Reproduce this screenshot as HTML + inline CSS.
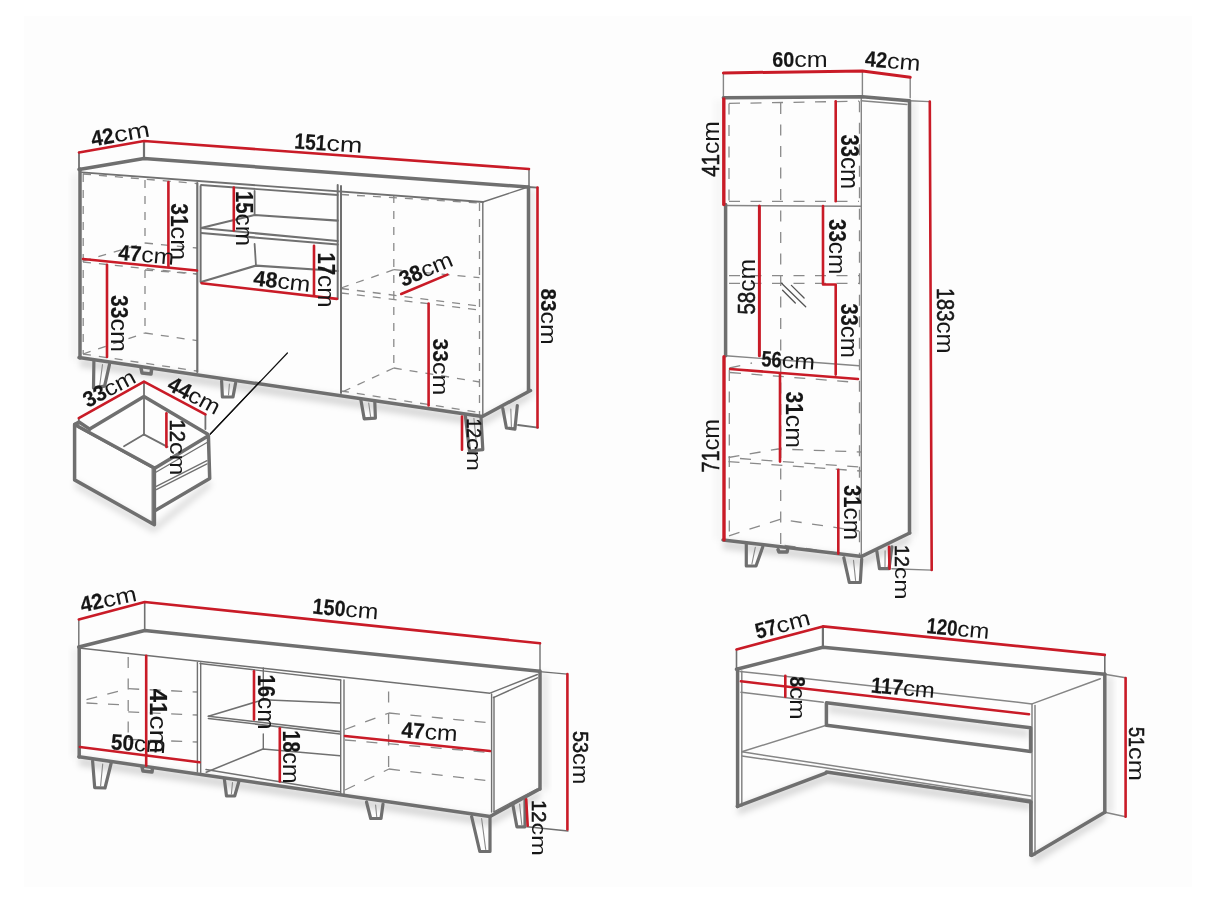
<!DOCTYPE html>
<html><head><meta charset="utf-8"><style>
html,body{margin:0;padding:0;background:#fff;}
svg{display:block;will-change:transform;}
text{font-family:"Liberation Sans",sans-serif;fill:#161616;}
</style></head><body>
<svg width="1214" height="910" viewBox="0 0 1214 910">
<rect width="1214" height="910" fill="#fff"/><rect x="24" y="16" width="1168" height="871" fill="#fdfdfd"/>
<defs><filter id="b30" x="-50%" y="-50%" width="200%" height="200%"><feGaussianBlur stdDeviation="3"/></filter></defs>
<polygon points="80.0,358.0 482.0,417.0 530.0,391.0 530.0,399.0 482.0,426.0 80.0,367.0" fill="#000" fill-opacity="0.15" filter="url(#b30)"/>
<polygon points="529.0,188.0 535.0,189.0 535.0,398.0 529.0,393.0" fill="#000" fill-opacity="0.09" filter="url(#b30)"/>
<polygon points="72.0,175.0 79.0,172.0 79.0,358.0 72.0,360.0" fill="#000" fill-opacity="0.05" filter="url(#b30)"/>
<polygon points="75.0,480.0 154.0,525.0 210.0,479.0 211.0,487.0 154.0,533.0 75.0,488.0" fill="#000" fill-opacity="0.12" filter="url(#b30)"/>
<polygon points="910.0,101.0 916.0,102.0 916.0,535.0 910.0,535.0" fill="#000" fill-opacity="0.08" filter="url(#b30)"/>
<polygon points="723.0,540.0 862.0,557.0 910.0,534.0 910.0,542.0 862.0,566.0 723.0,549.0" fill="#000" fill-opacity="0.15" filter="url(#b30)"/>
<polygon points="715.0,100.0 723.0,100.0 723.0,540.0 715.0,540.0" fill="#000" fill-opacity="0.03" filter="url(#b30)"/>
<polygon points="79.0,757.0 490.0,817.0 540.0,790.0 540.0,798.0 490.0,826.0 79.0,766.0" fill="#000" fill-opacity="0.15" filter="url(#b30)"/>
<polygon points="541.0,672.0 548.0,673.0 548.0,790.0 541.0,790.0" fill="#000" fill-opacity="0.09" filter="url(#b30)"/>
<polygon points="72.0,648.0 79.0,648.0 79.0,757.0 72.0,757.0" fill="#000" fill-opacity="0.05" filter="url(#b30)"/>
<polygon points="738.0,806.0 826.0,773.0 1031.0,802.0 1031.0,810.0 826.0,782.0 738.0,815.0" fill="#000" fill-opacity="0.15" filter="url(#b30)"/>
<polygon points="1032.0,855.0 1105.0,812.0 1105.0,820.0 1034.0,864.0" fill="#000" fill-opacity="0.15" filter="url(#b30)"/>
<polygon points="1105.0,675.0 1113.0,677.0 1113.0,813.0 1105.0,813.0" fill="#000" fill-opacity="0.09" filter="url(#b30)"/>
<polygon points="828.0,704.0 1029.0,729.0 1029.0,738.0 828.0,713.0" fill="#000" fill-opacity="0.12" filter="url(#b30)"/>
<polyline points="83.0,174.0 197.0,183.5" fill="none" stroke="#8a8a8a" stroke-width="1.3" stroke-dasharray="8 8"/>
<polyline points="83.2,174.0 83.2,354.0" fill="none" stroke="#8a8a8a" stroke-width="1.3" stroke-dasharray="8 8"/>
<polyline points="145.0,180.0 145.0,243.0" fill="none" stroke="#8a8a8a" stroke-width="1.3" stroke-dasharray="8 8"/>
<polyline points="145.0,243.0 197.0,248.0" fill="none" stroke="#8a8a8a" stroke-width="1.3" stroke-dasharray="8 8"/>
<polyline points="83.0,261.0 145.0,243.0" fill="none" stroke="#8a8a8a" stroke-width="1.3" stroke-dasharray="8 8"/>
<polyline points="83.0,262.0 197.0,274.0" fill="none" stroke="#8a8a8a" stroke-width="1.3" stroke-dasharray="8 8"/>
<polyline points="145.0,270.0 145.0,333.0" fill="none" stroke="#8a8a8a" stroke-width="1.3" stroke-dasharray="8 8"/>
<polyline points="145.0,270.0 197.0,274.0" fill="none" stroke="#8a8a8a" stroke-width="1.3" stroke-dasharray="8 8"/>
<polyline points="83.0,354.0 145.0,333.0" fill="none" stroke="#8a8a8a" stroke-width="1.3" stroke-dasharray="8 8"/>
<polyline points="145.0,333.0 197.0,340.6" fill="none" stroke="#8a8a8a" stroke-width="1.3" stroke-dasharray="8 8"/>
<polyline points="83.0,354.0 197.0,371.0" fill="none" stroke="#8a8a8a" stroke-width="1.3" stroke-dasharray="8 8"/>
<polyline points="341.0,194.5 479.5,203.0" fill="none" stroke="#8a8a8a" stroke-width="1.3" stroke-dasharray="8 8"/>
<polyline points="393.8,195.0 393.8,368.0" fill="none" stroke="#8a8a8a" stroke-width="1.3" stroke-dasharray="8 8"/>
<polyline points="479.5,203.0 479.5,415.0" fill="none" stroke="#8a8a8a" stroke-width="1.3" stroke-dasharray="8 8"/>
<polyline points="341.0,288.0 393.8,269.7" fill="none" stroke="#8a8a8a" stroke-width="1.3" stroke-dasharray="8 8"/>
<polyline points="393.8,269.7 479.5,277.6" fill="none" stroke="#8a8a8a" stroke-width="1.3" stroke-dasharray="8 8"/>
<polyline points="341.0,288.5 479.5,306.0" fill="none" stroke="#8a8a8a" stroke-width="1.3" stroke-dasharray="8 8"/>
<polyline points="341.0,293.0 479.5,310.0" fill="none" stroke="#8a8a8a" stroke-width="1.3" stroke-dasharray="8 8"/>
<polyline points="393.8,368.0 479.8,382.0" fill="none" stroke="#8a8a8a" stroke-width="1.3" stroke-dasharray="8 8"/>
<polyline points="393.8,368.0 340.0,393.0" fill="none" stroke="#8a8a8a" stroke-width="1.3" stroke-dasharray="8 8"/>
<polyline points="341.0,391.0 479.8,412.5" fill="none" stroke="#8a8a8a" stroke-width="1.3" stroke-dasharray="8 8"/>
<polyline points="79.0,152.5 79.0,169.5" fill="none" stroke="#707070" stroke-width="1.8" stroke-linejoin="round" stroke-linecap="round"/>
<polyline points="144.0,141.0 144.0,158.5" fill="none" stroke="#707070" stroke-width="2.2" stroke-linejoin="round" stroke-linecap="round"/>
<polyline points="529.0,169.0 529.0,187.0" fill="none" stroke="#707070" stroke-width="1.5" stroke-linejoin="round" stroke-linecap="round"/>
<polyline points="528.0,187.0 537.5,187.6" fill="none" stroke="#707070" stroke-width="1.8" stroke-linejoin="round" stroke-linecap="round"/>
<polyline points="82.0,172.4 482.8,202.0" fill="none" stroke="#707070" stroke-width="1.8" stroke-linejoin="round" stroke-linecap="round"/>
<polyline points="482.8,202.0 528.0,187.0" fill="none" stroke="#707070" stroke-width="1.4" stroke-linejoin="round" stroke-linecap="round"/>
<polyline points="482.8,202.0 482.8,416.5" fill="none" stroke="#707070" stroke-width="1.4" stroke-linejoin="round" stroke-linecap="round"/>
<polyline points="201.0,185.0 337.7,195.0" fill="none" stroke="#707070" stroke-width="1.8" stroke-linejoin="round" stroke-linecap="round"/>
<polyline points="254.6,191.0 254.6,215.0" fill="none" stroke="#707070" stroke-width="1.8" stroke-linejoin="round" stroke-linecap="round"/>
<polyline points="254.6,244.0 256.0,266.0" fill="none" stroke="#707070" stroke-width="1.8" stroke-linejoin="round" stroke-linecap="round"/>
<polyline points="201.0,228.0 254.6,215.0 337.7,220.6" fill="none" stroke="#707070" stroke-width="2.2" stroke-linejoin="round" stroke-linecap="round"/>
<polyline points="201.0,228.0 337.7,241.0" fill="none" stroke="#707070" stroke-width="2.2" stroke-linejoin="round" stroke-linecap="round"/>
<polyline points="201.0,233.0 337.7,244.5" fill="none" stroke="#707070" stroke-width="2.0" stroke-linejoin="round" stroke-linecap="round"/>
<polyline points="201.0,282.0 256.0,265.6 337.7,271.0" fill="none" stroke="#707070" stroke-width="2.2" stroke-linejoin="round" stroke-linecap="round"/>
<polyline points="337.7,185.0 337.7,299.0" fill="none" stroke="#707070" stroke-width="2.0" stroke-linejoin="round" stroke-linecap="round"/>
<polyline points="341.0,186.0 341.0,393.0" fill="none" stroke="#707070" stroke-width="2.0" stroke-linejoin="round" stroke-linecap="round"/>
<polyline points="518.0,425.0 537.9,427.6" fill="none" stroke="#707070" stroke-width="1.8" stroke-linejoin="round" stroke-linecap="round"/>
<polyline points="79.0,169.5 144.0,158.5 528.0,187.0" fill="none" stroke="#6f6f6f" stroke-width="3.5" stroke-linejoin="round" stroke-linecap="round"/>
<polyline points="80.0,169.0 80.0,358.0" fill="none" stroke="#6f6f6f" stroke-width="3.5" stroke-linejoin="round" stroke-linecap="round"/>
<polyline points="79.0,357.5 482.3,416.5 530.5,390.5" fill="none" stroke="#6f6f6f" stroke-width="3.5" stroke-linejoin="round" stroke-linecap="round"/>
<polyline points="528.5,187.0 528.5,390.5" fill="none" stroke="#6f6f6f" stroke-width="3.5" stroke-linejoin="round" stroke-linecap="round"/>
<polyline points="197.3,183.0 197.3,372.0" fill="none" stroke="#707070" stroke-width="2.2" stroke-linejoin="round" stroke-linecap="round"/>
<polyline points="200.6,186.0 200.6,282.0" fill="none" stroke="#707070" stroke-width="2.0" stroke-linejoin="round" stroke-linecap="round"/>
<polyline points="93.9,360.7 93.5,387.9 104.6,386.2 109.5,364.4" fill="none" stroke="#6f6f6f" stroke-width="3.2" stroke-linejoin="round" stroke-linecap="round"/>
<polyline points="102.5,364.5 99.8,385.0" fill="none" stroke="#888" stroke-width="1.1" stroke-linejoin="round" stroke-linecap="round"/>
<polyline points="141.0,368.0 142.0,373.0 151.0,374.0 151.5,370.0" fill="none" stroke="#6f6f6f" stroke-width="3.5" stroke-linejoin="round" stroke-linecap="round"/>
<polyline points="221.6,381.0 222.4,397.0 233.0,397.0 235.6,383.0" fill="none" stroke="#6f6f6f" stroke-width="3.2" stroke-linejoin="round" stroke-linecap="round"/>
<polyline points="229.4,384.0 228.5,395.0" fill="none" stroke="#888" stroke-width="1.1" stroke-linejoin="round" stroke-linecap="round"/>
<polyline points="360.9,400.0 364.2,418.8 375.4,418.1 374.8,402.0" fill="none" stroke="#6f6f6f" stroke-width="3.2" stroke-linejoin="round" stroke-linecap="round"/>
<polyline points="368.7,403.0 370.6,416.5" fill="none" stroke="#888" stroke-width="1.1" stroke-linejoin="round" stroke-linecap="round"/>
<polyline points="465.3,415.3 469.5,451.0 482.8,449.7 481.0,417.1" fill="none" stroke="#6f6f6f" stroke-width="3.2" stroke-linejoin="round" stroke-linecap="round"/>
<polyline points="473.9,418.2 476.9,448.4" fill="none" stroke="#888" stroke-width="1.1" stroke-linejoin="round" stroke-linecap="round"/>
<polyline points="502.8,408.6 506.4,428.0 514.9,429.2 517.3,405.6" fill="none" stroke="#6f6f6f" stroke-width="3.2" stroke-linejoin="round" stroke-linecap="round"/>
<polyline points="510.8,409.1 511.4,426.6" fill="none" stroke="#888" stroke-width="1.1" stroke-linejoin="round" stroke-linecap="round"/>
<polyline points="287.4,353.0 210.3,434.0" fill="none" stroke="#111" stroke-width="1.2" stroke-linejoin="round" stroke-linecap="round"/>
<polyline points="79.0,152.5 144.0,141.0 529.0,169.0" fill="none" stroke="#c91b27" stroke-width="2.6" stroke-linejoin="round" stroke-linecap="round"/>
<polyline points="537.5,187.5 537.5,427.5" fill="none" stroke="#c91b27" stroke-width="2.6" stroke-linejoin="round" stroke-linecap="round"/>
<polyline points="168.4,182.0 168.4,267.0" fill="none" stroke="#c91b27" stroke-width="2.6" stroke-linejoin="round" stroke-linecap="round"/>
<polyline points="233.8,187.6 233.8,230.5" fill="none" stroke="#c91b27" stroke-width="2.6" stroke-linejoin="round" stroke-linecap="round"/>
<polyline points="83.0,259.0 197.0,270.5" fill="none" stroke="#c91b27" stroke-width="2.6" stroke-linejoin="round" stroke-linecap="round"/>
<polyline points="107.0,264.7 107.0,357.0" fill="none" stroke="#c91b27" stroke-width="2.6" stroke-linejoin="round" stroke-linecap="round"/>
<polyline points="201.6,283.2 336.9,298.9" fill="none" stroke="#c91b27" stroke-width="2.6" stroke-linejoin="round" stroke-linecap="round"/>
<polyline points="314.0,245.8 314.0,295.2" fill="none" stroke="#c91b27" stroke-width="2.6" stroke-linejoin="round" stroke-linecap="round"/>
<polyline points="401.2,294.0 447.4,274.6" fill="none" stroke="#c91b27" stroke-width="2.6" stroke-linejoin="round" stroke-linecap="round"/>
<polyline points="428.6,303.5 428.6,405.4" fill="none" stroke="#c91b27" stroke-width="2.6" stroke-linejoin="round" stroke-linecap="round"/>
<polyline points="462.0,416.5 462.0,449.8" fill="none" stroke="#c91b27" stroke-width="2.6" stroke-linejoin="round" stroke-linecap="round"/>
<g transform="translate(92.5,146.5) rotate(-10.00)"><text x="0" y="0" font-size="22" font-weight="bold" stroke="#161616" stroke-width="0.2" textLength="23.0" lengthAdjust="spacingAndGlyphs">42</text><text x="23.0" y="0" font-size="22" textLength="36.0" lengthAdjust="spacingAndGlyphs">cm</text></g>
<g transform="translate(294.0,148.6) rotate(3.50)"><text x="0" y="0" font-size="22" font-weight="bold" stroke="#161616" stroke-width="0.2" textLength="32.0" lengthAdjust="spacingAndGlyphs">151</text><text x="32.0" y="0" font-size="22" textLength="36.0" lengthAdjust="spacingAndGlyphs">cm</text></g>
<g transform="translate(171.4,203.3) rotate(90)">
<text x="0" y="0" font-size="23.2" font-weight="bold" stroke="#161616" stroke-width="0.2" textLength="23.3" lengthAdjust="spacingAndGlyphs">31</text><text x="23.3" y="0" font-size="23.2" textLength="33.5" lengthAdjust="spacingAndGlyphs">cm</text></g>
<g transform="translate(236.3,190.9) rotate(90)">
<text x="0" y="0" font-size="23.2" font-weight="bold" stroke="#161616" stroke-width="0.2" textLength="22.7" lengthAdjust="spacingAndGlyphs">15</text><text x="22.7" y="0" font-size="23.2" textLength="32.5" lengthAdjust="spacingAndGlyphs">cm</text></g>
<g transform="translate(117.8,259.8) rotate(5.00)"><text x="0" y="0" font-size="22" font-weight="bold" stroke="#161616" stroke-width="0.2" textLength="23.0" lengthAdjust="spacingAndGlyphs">47</text><text x="23.0" y="0" font-size="22" textLength="33.0" lengthAdjust="spacingAndGlyphs">cm</text></g>
<g transform="translate(111.0,295.0) rotate(90)">
<text x="0" y="0" font-size="23.5" font-weight="bold" stroke="#161616" stroke-width="0.2" textLength="23.4" lengthAdjust="spacingAndGlyphs">33</text><text x="23.4" y="0" font-size="23.5" textLength="33.6" lengthAdjust="spacingAndGlyphs">cm</text></g>
<g transform="translate(252.8,285.3) rotate(6.70)"><text x="0" y="0" font-size="22" font-weight="bold" stroke="#161616" stroke-width="0.2" textLength="24.0" lengthAdjust="spacingAndGlyphs">48</text><text x="24.0" y="0" font-size="22" textLength="33.0" lengthAdjust="spacingAndGlyphs">cm</text></g>
<g transform="translate(318.0,252.4) rotate(90)">
<text x="0" y="0" font-size="23.1" font-weight="bold" stroke="#161616" stroke-width="0.2" textLength="22.7" lengthAdjust="spacingAndGlyphs">17</text><text x="22.7" y="0" font-size="23.1" textLength="32.5" lengthAdjust="spacingAndGlyphs">cm</text></g>
<g transform="translate(403.0,287.0) rotate(-22.80)"><text x="0" y="0" font-size="22" font-weight="bold" stroke="#161616" stroke-width="0.2" textLength="23.0" lengthAdjust="spacingAndGlyphs">38</text><text x="23.0" y="0" font-size="22" textLength="33.0" lengthAdjust="spacingAndGlyphs">cm</text></g>
<g transform="translate(432.8,338.6) rotate(90)">
<text x="0" y="0" font-size="22.7" font-weight="bold" stroke="#161616" stroke-width="0.2" textLength="23.4" lengthAdjust="spacingAndGlyphs">33</text><text x="23.4" y="0" font-size="22.7" textLength="33.5" lengthAdjust="spacingAndGlyphs">cm</text></g>
<g transform="translate(541.4,288.6) rotate(90)">
<text x="0" y="0" font-size="22.0" font-weight="bold" stroke="#161616" stroke-width="0.2" textLength="23.0" lengthAdjust="spacingAndGlyphs">83</text><text x="23.0" y="0" font-size="22.0" textLength="33.1" lengthAdjust="spacingAndGlyphs">cm</text></g>
<g transform="translate(466.9,418.6) rotate(90)">
<text x="0" y="0" font-size="20.8" font-weight="normal" stroke="#161616" stroke-width="0.6" textLength="19.5" lengthAdjust="spacingAndGlyphs">12</text><text x="19.5" y="0" font-size="20.8" textLength="32.8" lengthAdjust="spacingAndGlyphs">cm</text></g>
<polygon points="74.6,424.5 154.4,468.0 154.4,524.7 74.6,479.9" fill="none" stroke="#6f6f6f" stroke-width="3.5" stroke-linejoin="round" stroke-linecap="round"/>
<polyline points="78.0,427.5 152.0,468.0" fill="none" stroke="#707070" stroke-width="1.3" stroke-linejoin="round" stroke-linecap="round"/>
<polyline points="152.2,469.0 152.2,523.0" fill="none" stroke="#707070" stroke-width="1.3" stroke-linejoin="round" stroke-linecap="round"/>
<polyline points="154.4,468.0 156.0,467.5 208.4,435.7 209.7,478.5 155.7,510.2" fill="none" stroke="#6f6f6f" stroke-width="3.5" stroke-linejoin="round" stroke-linecap="round"/>
<polyline points="89.7,429.1 144.0,396.5 207.4,434.0" fill="none" stroke="#6f6f6f" stroke-width="3.5" stroke-linejoin="round" stroke-linecap="round"/>
<polyline points="74.8,424.2 79.0,422.0 89.7,429.1" fill="none" stroke="#6f6f6f" stroke-width="3.5" stroke-linejoin="round" stroke-linecap="round"/>
<polyline points="144.0,396.5 144.0,435.0" fill="none" stroke="#707070" stroke-width="1.8" stroke-linejoin="round" stroke-linecap="round"/>
<polyline points="143.8,434.4 124.0,446.2" fill="none" stroke="#707070" stroke-width="1.8" stroke-linejoin="round" stroke-linecap="round"/>
<polyline points="143.8,434.4 167.5,446.9" fill="none" stroke="#707070" stroke-width="1.8" stroke-linejoin="round" stroke-linecap="round"/>
<polyline points="156.3,472.0 207.0,442.5" fill="none" stroke="#707070" stroke-width="1.3" stroke-linejoin="round" stroke-linecap="round"/>
<polyline points="156.3,486.4 207.0,460.7" fill="none" stroke="#707070" stroke-width="1.3" stroke-linejoin="round" stroke-linecap="round"/>
<polyline points="156.3,489.6 207.0,463.9" fill="none" stroke="#707070" stroke-width="1.3" stroke-linejoin="round" stroke-linecap="round"/>
<polyline points="78.8,418.0 78.8,424.0" fill="none" stroke="#707070" stroke-width="1.8" stroke-linejoin="round" stroke-linecap="round"/>
<polyline points="144.0,381.6 144.0,396.5" fill="none" stroke="#707070" stroke-width="1.8" stroke-linejoin="round" stroke-linecap="round"/>
<polyline points="205.4,414.3 205.4,429.0" fill="none" stroke="#707070" stroke-width="1.8" stroke-linejoin="round" stroke-linecap="round"/>
<polyline points="210.3,434.0 260.0,381.6" fill="none" stroke="#111" stroke-width="1.2" stroke-linejoin="round" stroke-linecap="round"/>
<polyline points="78.8,418.2 144.0,381.6 205.4,414.3" fill="none" stroke="#c91b27" stroke-width="2.6" stroke-linejoin="round" stroke-linecap="round"/>
<polyline points="166.4,413.3 166.4,447.0" fill="none" stroke="#c91b27" stroke-width="2.6" stroke-linejoin="round" stroke-linecap="round"/>
<g transform="translate(88.0,408.0) rotate(-28.00)"><text x="0" y="0" font-size="22" font-weight="bold" stroke="#161616" stroke-width="0.2" textLength="23.0" lengthAdjust="spacingAndGlyphs">33</text><text x="23.0" y="0" font-size="22" textLength="33.0" lengthAdjust="spacingAndGlyphs">cm</text></g>
<g transform="translate(166.0,389.0) rotate(28.00)"><text x="0" y="0" font-size="22" font-weight="bold" stroke="#161616" stroke-width="0.2" textLength="23.0" lengthAdjust="spacingAndGlyphs">44</text><text x="23.0" y="0" font-size="22" textLength="33.0" lengthAdjust="spacingAndGlyphs">cm</text></g>
<g transform="translate(169.9,419.5) rotate(90)">
<text x="0" y="0" font-size="22.4" font-weight="normal" stroke="#161616" stroke-width="0.6" textLength="22.5" lengthAdjust="spacingAndGlyphs">12</text><text x="22.5" y="0" font-size="22.4" textLength="33.5" lengthAdjust="spacingAndGlyphs">cm</text></g>
<polyline points="729.0,103.4 859.0,101.2" fill="none" stroke="#8a8a8a" stroke-width="1.3" stroke-dasharray="11 10.5"/>
<polyline points="729.0,103.4 729.0,201.3" fill="none" stroke="#8a8a8a" stroke-width="1.3" stroke-dasharray="11 10.5"/>
<polyline points="780.7,103.0 780.7,549.0" fill="none" stroke="#8a8a8a" stroke-width="1.3" stroke-dasharray="11 10.5"/>
<polyline points="859.5,101.2 859.5,556.0" fill="none" stroke="#8a8a8a" stroke-width="1.3" stroke-dasharray="11 10.5"/>
<polyline points="729.0,201.3 859.0,201.3" fill="none" stroke="#8a8a8a" stroke-width="1.3" stroke-dasharray="11 10.5"/>
<polyline points="729.0,275.6 859.0,275.6" fill="none" stroke="#8a8a8a" stroke-width="1.3" stroke-dasharray="11 10.5"/>
<polyline points="729.0,283.4 859.0,283.4" fill="none" stroke="#8a8a8a" stroke-width="1.3" stroke-dasharray="11 10.5"/>
<polyline points="730.0,372.5 858.0,382.5" fill="none" stroke="#8a8a8a" stroke-width="1.3" stroke-dasharray="11 10.5"/>
<polyline points="729.5,368.0 752.0,363.0" fill="none" stroke="#8a8a8a" stroke-width="1.3" stroke-dasharray="11 10.5"/>
<polyline points="729.3,370.0 729.3,536.0" fill="none" stroke="#8a8a8a" stroke-width="1.3" stroke-dasharray="11 10.5"/>
<polyline points="728.5,457.5 778.0,449.0 861.0,452.0" fill="none" stroke="#8a8a8a" stroke-width="1.3" stroke-dasharray="11 10.5"/>
<polyline points="728.5,461.6 861.0,471.0" fill="none" stroke="#8a8a8a" stroke-width="1.3" stroke-dasharray="11 10.5"/>
<polyline points="740.0,458.5 859.0,467.0" fill="none" stroke="#8a8a8a" stroke-width="1.3" stroke-dasharray="11 10.5"/>
<polyline points="784.6,545.4 838.6,553.3" fill="none" stroke="#8a8a8a" stroke-width="1.3" stroke-dasharray="11 10.5"/>
<polyline points="729.0,535.8 780.0,519.3 859.0,531.0" fill="none" stroke="#8a8a8a" stroke-width="1.3" stroke-dasharray="11 10.5"/>
<polyline points="781.5,283.2 805.7,306.8" fill="none" stroke="#555" stroke-width="1.3" stroke-linejoin="round" stroke-linecap="round"/>
<polyline points="791.4,285.4 804.1,298.0" fill="none" stroke="#555" stroke-width="1.3" stroke-linejoin="round" stroke-linecap="round"/>
<polyline points="782.6,290.3 795.3,303.0" fill="none" stroke="#555" stroke-width="1.3" stroke-linejoin="round" stroke-linecap="round"/>
<polyline points="723.4,73.0 723.4,97.8" fill="none" stroke="#858585" stroke-width="1.4" stroke-linejoin="round" stroke-linecap="round"/>
<polyline points="862.4,71.0 862.4,96.7" fill="none" stroke="#858585" stroke-width="1.4" stroke-linejoin="round" stroke-linecap="round"/>
<polyline points="910.2,77.0 910.2,97.8" fill="none" stroke="#858585" stroke-width="1.4" stroke-linejoin="round" stroke-linecap="round"/>
<polyline points="909.0,100.7 929.8,101.6" fill="none" stroke="#858585" stroke-width="1.4" stroke-linejoin="round" stroke-linecap="round"/>
<polyline points="861.3,97.0 861.3,556.0" fill="none" stroke="#858585" stroke-width="1.4" stroke-linejoin="round" stroke-linecap="round"/>
<polyline points="861.3,100.7 906.9,104.5" fill="none" stroke="#858585" stroke-width="1.4" stroke-linejoin="round" stroke-linecap="round"/>
<polyline points="725.6,205.5 861.0,206.3" fill="none" stroke="#858585" stroke-width="1.4" stroke-linejoin="round" stroke-linecap="round"/>
<polyline points="725.6,355.7 859.0,365.7" fill="none" stroke="#858585" stroke-width="1.4" stroke-linejoin="round" stroke-linecap="round"/>
<polyline points="891.9,568.7 931.7,570.1" fill="none" stroke="#858585" stroke-width="1.4" stroke-linejoin="round" stroke-linecap="round"/>
<polyline points="723.4,97.8 862.4,96.7 909.0,100.7" fill="none" stroke="#6f6f6f" stroke-width="3.5" stroke-linejoin="round" stroke-linecap="round"/>
<polyline points="909.5,100.7 909.5,533.0" fill="none" stroke="#6f6f6f" stroke-width="3.5" stroke-linejoin="round" stroke-linecap="round"/>
<polyline points="725.6,204.5 725.6,355.7" fill="none" stroke="#6f6f6f" stroke-width="3.5" stroke-linejoin="round" stroke-linecap="round"/>
<polyline points="723.0,539.9 861.7,556.4 909.7,533.0" fill="none" stroke="#6f6f6f" stroke-width="3.5" stroke-linejoin="round" stroke-linecap="round"/>
<polyline points="746.3,544.0 746.3,566.0 756.0,566.0 762.8,546.8" fill="none" stroke="#6f6f6f" stroke-width="3.2" stroke-linejoin="round" stroke-linecap="round"/>
<polyline points="755.3,547.4 751.9,564.0" fill="none" stroke="#888" stroke-width="1.1" stroke-linejoin="round" stroke-linecap="round"/>
<polyline points="843.8,557.7 849.3,582.5 860.3,582.5 861.7,559.0" fill="none" stroke="#6f6f6f" stroke-width="3.2" stroke-linejoin="round" stroke-linecap="round"/>
<polyline points="853.5,560.4 855.6,580.5" fill="none" stroke="#888" stroke-width="1.1" stroke-linejoin="round" stroke-linecap="round"/>
<polyline points="876.8,550.9 879.5,568.7 889.0,568.7 891.9,546.8" fill="none" stroke="#6f6f6f" stroke-width="3.2" stroke-linejoin="round" stroke-linecap="round"/>
<polyline points="885.1,550.8 885.0,566.7" fill="none" stroke="#888" stroke-width="1.1" stroke-linejoin="round" stroke-linecap="round"/>
<polyline points="778.0,549.5 779.0,552.0 787.0,552.0 787.5,550.0" fill="none" stroke="#6f6f6f" stroke-width="3.5" stroke-linejoin="round" stroke-linecap="round"/>
<polyline points="723.4,72.9 862.4,71.1 910.2,77.2" fill="none" stroke="#c91b27" stroke-width="3" stroke-linejoin="round" stroke-linecap="round"/>
<polyline points="929.8,101.6 931.7,570.0" fill="none" stroke="#c91b27" stroke-width="2.6" stroke-linejoin="round" stroke-linecap="round"/>
<polyline points="723.8,99.0 723.8,204.6" fill="none" stroke="#c91b27" stroke-width="3.4" stroke-linejoin="round" stroke-linecap="round"/>
<polyline points="835.7,101.2 835.7,201.3" fill="none" stroke="#c91b27" stroke-width="2.6" stroke-linejoin="round" stroke-linecap="round"/>
<polyline points="759.4,206.0 759.4,355.7" fill="none" stroke="#c91b27" stroke-width="3" stroke-linejoin="round" stroke-linecap="round"/>
<polyline points="823.0,206.0 823.0,284.5 835.7,284.5 835.7,374.6" fill="none" stroke="#c91b27" stroke-width="2.6" stroke-linejoin="round" stroke-linecap="round"/>
<polyline points="730.0,369.0 858.0,379.0" fill="none" stroke="#c91b27" stroke-width="2.6" stroke-linejoin="round" stroke-linecap="round"/>
<polyline points="724.0,356.8 724.0,539.9" fill="none" stroke="#c91b27" stroke-width="3.4" stroke-linejoin="round" stroke-linecap="round"/>
<polyline points="780.0,374.6 780.0,461.6" fill="none" stroke="#c91b27" stroke-width="2.6" stroke-linejoin="round" stroke-linecap="round"/>
<polyline points="838.3,469.9 838.3,553.6" fill="none" stroke="#c91b27" stroke-width="2.6" stroke-linejoin="round" stroke-linecap="round"/>
<polyline points="889.0,546.8 889.5,568.7" fill="none" stroke="#c91b27" stroke-width="2.6" stroke-linejoin="round" stroke-linecap="round"/>
<g transform="translate(772.3,66.7) rotate(0.00)"><text x="0" y="0" font-size="22" font-weight="bold" stroke="#161616" stroke-width="0.2" textLength="22.0" lengthAdjust="spacingAndGlyphs">60</text><text x="22.0" y="0" font-size="22" textLength="33.4" lengthAdjust="spacingAndGlyphs">cm</text></g>
<g transform="translate(864.6,66.0) rotate(5.00)"><text x="0" y="0" font-size="22" font-weight="bold" stroke="#161616" stroke-width="0.2" textLength="22.0" lengthAdjust="spacingAndGlyphs">42</text><text x="22.0" y="0" font-size="22" textLength="33.4" lengthAdjust="spacingAndGlyphs">cm</text></g>
<g transform="translate(718.9,176.8) rotate(-90)">
<text x="0" y="0" font-size="23.5" font-weight="normal" stroke="#161616" stroke-width="0.6" textLength="22.8" lengthAdjust="spacingAndGlyphs">41</text><text x="22.8" y="0" font-size="23.5" textLength="32.8" lengthAdjust="spacingAndGlyphs">cm</text></g>
<g transform="translate(841.2,134.5) rotate(90)">
<text x="0" y="0" font-size="25.1" font-weight="bold" stroke="#161616" stroke-width="0.2" textLength="22.4" lengthAdjust="spacingAndGlyphs">33</text><text x="22.4" y="0" font-size="25.1" textLength="32.1" lengthAdjust="spacingAndGlyphs">cm</text></g>
<g transform="translate(829.0,219.0) rotate(90)">
<text x="0" y="0" font-size="23.5" font-weight="bold" stroke="#161616" stroke-width="0.2" textLength="22.8" lengthAdjust="spacingAndGlyphs">33</text><text x="22.8" y="0" font-size="23.5" textLength="32.7" lengthAdjust="spacingAndGlyphs">cm</text></g>
<g transform="translate(754.5,314.6) rotate(-90)">
<text x="0" y="0" font-size="23.5" font-weight="normal" stroke="#161616" stroke-width="0.6" textLength="22.8" lengthAdjust="spacingAndGlyphs">58</text><text x="22.8" y="0" font-size="23.5" textLength="32.8" lengthAdjust="spacingAndGlyphs">cm</text></g>
<g transform="translate(841.2,303.4) rotate(90)">
<text x="0" y="0" font-size="23.7" font-weight="bold" stroke="#161616" stroke-width="0.2" textLength="22.4" lengthAdjust="spacingAndGlyphs">33</text><text x="22.4" y="0" font-size="23.7" textLength="32.2" lengthAdjust="spacingAndGlyphs">cm</text></g>
<g transform="translate(936.9,287.9) rotate(90)">
<text x="0" y="0" font-size="23.5" font-weight="normal" stroke="#161616" stroke-width="0.6" textLength="33.5" lengthAdjust="spacingAndGlyphs">183</text><text x="33.5" y="0" font-size="23.5" textLength="32.1" lengthAdjust="spacingAndGlyphs">cm</text></g>
<g transform="translate(761.0,366.0) rotate(4.00)"><text x="0" y="0" font-size="22" font-weight="bold" stroke="#161616" stroke-width="0.2" textLength="20.2" lengthAdjust="spacingAndGlyphs">56</text><text x="20.2" y="0" font-size="22" textLength="33.4" lengthAdjust="spacingAndGlyphs">cm</text></g>
<g transform="translate(786.0,391.6) rotate(90)">
<text x="0" y="0" font-size="23.4" font-weight="bold" stroke="#161616" stroke-width="0.2" textLength="23.1" lengthAdjust="spacingAndGlyphs">31</text><text x="23.1" y="0" font-size="23.4" textLength="33.2" lengthAdjust="spacingAndGlyphs">cm</text></g>
<g transform="translate(718.8,472.6) rotate(-90)">
<text x="0" y="0" font-size="23.1" font-weight="normal" stroke="#161616" stroke-width="0.6" textLength="22.0" lengthAdjust="spacingAndGlyphs">71</text><text x="22.0" y="0" font-size="23.1" textLength="31.6" lengthAdjust="spacingAndGlyphs">cm</text></g>
<g transform="translate(843.8,485.0) rotate(90)">
<text x="0" y="0" font-size="24.2" font-weight="bold" stroke="#161616" stroke-width="0.2" textLength="22.5" lengthAdjust="spacingAndGlyphs">31</text><text x="22.5" y="0" font-size="24.2" textLength="32.4" lengthAdjust="spacingAndGlyphs">cm</text></g>
<g transform="translate(895.0,545.0) rotate(90)">
<text x="0" y="0" font-size="20.6" font-weight="normal" stroke="#161616" stroke-width="0.6" textLength="22.0" lengthAdjust="spacingAndGlyphs">12</text><text x="22.0" y="0" font-size="20.6" textLength="32.5" lengthAdjust="spacingAndGlyphs">cm</text></g>
<polyline points="128.2,657.0 128.2,740.4" fill="none" stroke="#8a8a8a" stroke-width="1.3" stroke-dasharray="11 10.5"/>
<polyline points="128.2,688.7 197.0,692.0" fill="none" stroke="#8a8a8a" stroke-width="1.3" stroke-dasharray="11 10.5"/>
<polyline points="128.2,711.8 197.0,715.0" fill="none" stroke="#8a8a8a" stroke-width="1.3" stroke-dasharray="11 10.5"/>
<polyline points="128.2,739.3 197.0,742.0" fill="none" stroke="#8a8a8a" stroke-width="1.3" stroke-dasharray="11 10.5"/>
<polyline points="86.5,699.7 128.2,688.7" fill="none" stroke="#8a8a8a" stroke-width="1.3" stroke-dasharray="11 10.5"/>
<polyline points="86.5,703.0 128.2,705.0" fill="none" stroke="#8a8a8a" stroke-width="1.3" stroke-dasharray="11 10.5"/>
<polyline points="388.6,691.5 388.6,769.0" fill="none" stroke="#8a8a8a" stroke-width="1.3" stroke-dasharray="11 10.5"/>
<polyline points="389.0,713.0 490.0,722.9" fill="none" stroke="#8a8a8a" stroke-width="1.3" stroke-dasharray="11 10.5"/>
<polyline points="345.0,729.5 389.0,713.0" fill="none" stroke="#8a8a8a" stroke-width="1.3" stroke-dasharray="11 10.5"/>
<polyline points="345.0,740.0 490.0,752.5" fill="none" stroke="#8a8a8a" stroke-width="1.3" stroke-dasharray="11 10.5"/>
<polyline points="389.0,769.0 490.0,781.0" fill="none" stroke="#8a8a8a" stroke-width="1.3" stroke-dasharray="11 10.5"/>
<polyline points="345.0,790.0 389.0,769.0" fill="none" stroke="#8a8a8a" stroke-width="1.3" stroke-dasharray="11 10.5"/>
<polyline points="78.8,619.5 78.8,647.0" fill="none" stroke="#707070" stroke-width="1.4" stroke-linejoin="round" stroke-linecap="round"/>
<polyline points="144.7,602.0 144.7,630.5" fill="none" stroke="#707070" stroke-width="1.6" stroke-linejoin="round" stroke-linecap="round"/>
<polyline points="540.0,643.0 540.0,671.0" fill="none" stroke="#707070" stroke-width="1.4" stroke-linejoin="round" stroke-linecap="round"/>
<polyline points="539.6,671.6 567.4,674.1" fill="none" stroke="#707070" stroke-width="1.4" stroke-linejoin="round" stroke-linecap="round"/>
<polyline points="527.0,826.8 568.0,831.0" fill="none" stroke="#707070" stroke-width="1.4" stroke-linejoin="round" stroke-linecap="round"/>
<polyline points="79.0,648.0 490.0,693.2 537.4,674.5" fill="none" stroke="#707070" stroke-width="1.4" stroke-linejoin="round" stroke-linecap="round"/>
<polyline points="493.4,697.6 537.4,677.8" fill="none" stroke="#707070" stroke-width="1.4" stroke-linejoin="round" stroke-linecap="round"/>
<polyline points="491.6,694.0 491.6,812.0" fill="none" stroke="#707070" stroke-width="1.4" stroke-linejoin="round" stroke-linecap="round"/>
<polyline points="494.0,697.0 494.0,811.8" fill="none" stroke="#707070" stroke-width="1.4" stroke-linejoin="round" stroke-linecap="round"/>
<polyline points="494.0,811.8 537.0,789.0" fill="none" stroke="#707070" stroke-width="1.4" stroke-linejoin="round" stroke-linecap="round"/>
<polyline points="200.0,663.5 340.7,680.0" fill="none" stroke="#707070" stroke-width="1.4" stroke-linejoin="round" stroke-linecap="round"/>
<polyline points="197.4,662.4 197.4,772.0" fill="none" stroke="#707070" stroke-width="1.4" stroke-linejoin="round" stroke-linecap="round"/>
<polyline points="200.7,663.0 200.7,772.5" fill="none" stroke="#707070" stroke-width="1.4" stroke-linejoin="round" stroke-linecap="round"/>
<polyline points="340.7,680.0 340.7,795.0" fill="none" stroke="#707070" stroke-width="1.4" stroke-linejoin="round" stroke-linecap="round"/>
<polyline points="344.0,680.0 344.0,796.0" fill="none" stroke="#707070" stroke-width="1.4" stroke-linejoin="round" stroke-linecap="round"/>
<polyline points="208.4,716.2 263.3,699.7 340.0,703.0" fill="none" stroke="#707070" stroke-width="1.5" stroke-linejoin="round" stroke-linecap="round"/>
<polyline points="208.4,716.2 340.0,731.6" fill="none" stroke="#707070" stroke-width="1.6" stroke-linejoin="round" stroke-linecap="round"/>
<polyline points="208.4,718.5 340.0,734.0" fill="none" stroke="#707070" stroke-width="1.5" stroke-linejoin="round" stroke-linecap="round"/>
<polyline points="263.3,668.0 263.3,699.7" fill="none" stroke="#707070" stroke-width="1.4" stroke-linejoin="round" stroke-linecap="round"/>
<polyline points="263.3,734.0 263.3,749.0" fill="none" stroke="#707070" stroke-width="1.4" stroke-linejoin="round" stroke-linecap="round"/>
<polyline points="206.2,772.2 263.0,749.0 340.0,755.8" fill="none" stroke="#707070" stroke-width="1.5" stroke-linejoin="round" stroke-linecap="round"/>
<polyline points="206.0,769.5 339.8,791.8" fill="none" stroke="#707070" stroke-width="1.5" stroke-linejoin="round" stroke-linecap="round"/>
<polyline points="78.8,647.0 144.7,630.5 539.6,671.2" fill="none" stroke="#6f6f6f" stroke-width="3.5" stroke-linejoin="round" stroke-linecap="round"/>
<polyline points="79.2,647.0 79.2,757.0" fill="none" stroke="#6f6f6f" stroke-width="3.5" stroke-linejoin="round" stroke-linecap="round"/>
<polyline points="540.0,671.0 540.0,789.0" fill="none" stroke="#6f6f6f" stroke-width="3.5" stroke-linejoin="round" stroke-linecap="round"/>
<polyline points="79.0,756.8 490.0,816.5 539.6,789.0" fill="none" stroke="#6f6f6f" stroke-width="3.5" stroke-linejoin="round" stroke-linecap="round"/>
<polyline points="92.6,761.0 94.7,787.7 105.0,788.0 111.2,763.0" fill="none" stroke="#6f6f6f" stroke-width="3.2" stroke-linejoin="round" stroke-linecap="round"/>
<polyline points="102.7,764.0 100.6,785.9" fill="none" stroke="#888" stroke-width="1.1" stroke-linejoin="round" stroke-linecap="round"/>
<polyline points="142.0,767.0 143.0,771.0 152.0,772.0 152.4,769.0" fill="none" stroke="#6f6f6f" stroke-width="3.5" stroke-linejoin="round" stroke-linecap="round"/>
<polyline points="224.4,779.4 226.5,796.0 234.7,796.0 238.9,781.5" fill="none" stroke="#6f6f6f" stroke-width="3.2" stroke-linejoin="round" stroke-linecap="round"/>
<polyline points="232.5,782.5 231.4,794.0" fill="none" stroke="#888" stroke-width="1.1" stroke-linejoin="round" stroke-linecap="round"/>
<polyline points="366.5,802.0 370.7,818.5 381.0,818.5 383.0,804.0" fill="none" stroke="#6f6f6f" stroke-width="3.2" stroke-linejoin="round" stroke-linecap="round"/>
<polyline points="375.6,805.0 376.7,816.5" fill="none" stroke="#888" stroke-width="1.1" stroke-linejoin="round" stroke-linecap="round"/>
<polyline points="471.6,816.5 479.8,851.5 490.0,851.5 490.0,816.5" fill="none" stroke="#6f6f6f" stroke-width="3.2" stroke-linejoin="round" stroke-linecap="round"/>
<polyline points="481.6,818.5 485.7,849.5" fill="none" stroke="#888" stroke-width="1.1" stroke-linejoin="round" stroke-linecap="round"/>
<polyline points="512.7,804.0 516.9,826.8 525.0,826.8 525.0,800.0" fill="none" stroke="#6f6f6f" stroke-width="3.2" stroke-linejoin="round" stroke-linecap="round"/>
<polyline points="519.6,804.0 521.8,824.8" fill="none" stroke="#888" stroke-width="1.1" stroke-linejoin="round" stroke-linecap="round"/>
<polyline points="78.8,619.5 144.7,602.0 540.0,643.3" fill="none" stroke="#c91b27" stroke-width="2.6" stroke-linejoin="round" stroke-linecap="round"/>
<polyline points="567.4,674.1 567.4,829.5" fill="none" stroke="#c91b27" stroke-width="2.6" stroke-linejoin="round" stroke-linecap="round"/>
<polyline points="146.2,655.8 146.2,765.6" fill="none" stroke="#c91b27" stroke-width="2.6" stroke-linejoin="round" stroke-linecap="round"/>
<polyline points="79.9,747.0 199.6,762.3" fill="none" stroke="#c91b27" stroke-width="2.6" stroke-linejoin="round" stroke-linecap="round"/>
<polyline points="254.0,671.2 254.0,719.5" fill="none" stroke="#c91b27" stroke-width="2.6" stroke-linejoin="round" stroke-linecap="round"/>
<polyline points="279.8,728.3 279.8,781.5" fill="none" stroke="#c91b27" stroke-width="2.6" stroke-linejoin="round" stroke-linecap="round"/>
<polyline points="345.0,736.0 490.0,751.0" fill="none" stroke="#c91b27" stroke-width="2.6" stroke-linejoin="round" stroke-linecap="round"/>
<polyline points="526.2,799.2 527.7,825.7" fill="none" stroke="#c91b27" stroke-width="2.6" stroke-linejoin="round" stroke-linecap="round"/>
<g transform="translate(82.0,612.5) rotate(-12.00)"><text x="0" y="0" font-size="22" font-weight="bold" stroke="#161616" stroke-width="0.2" textLength="23.0" lengthAdjust="spacingAndGlyphs">42</text><text x="23.0" y="0" font-size="22" textLength="34.0" lengthAdjust="spacingAndGlyphs">cm</text></g>
<g transform="translate(312.0,613.5) rotate(5.00)"><text x="0" y="0" font-size="22" font-weight="bold" stroke="#161616" stroke-width="0.2" textLength="33.0" lengthAdjust="spacingAndGlyphs">150</text><text x="33.0" y="0" font-size="22" textLength="33.0" lengthAdjust="spacingAndGlyphs">cm</text></g>
<g transform="translate(150.2,688.7) rotate(90)">
<text x="0" y="0" font-size="24.8" font-weight="bold" stroke="#161616" stroke-width="0.2" textLength="26.6" lengthAdjust="spacingAndGlyphs">41</text><text x="26.6" y="0" font-size="24.8" textLength="38.2" lengthAdjust="spacingAndGlyphs">cm</text></g>
<g transform="translate(110.6,749.2) rotate(4.00)"><text x="0" y="0" font-size="22" font-weight="bold" stroke="#161616" stroke-width="0.2" textLength="23.0" lengthAdjust="spacingAndGlyphs">50</text><text x="23.0" y="0" font-size="22" textLength="32.0" lengthAdjust="spacingAndGlyphs">cm</text></g>
<g transform="translate(257.8,674.5) rotate(90)">
<text x="0" y="0" font-size="24.8" font-weight="bold" stroke="#161616" stroke-width="0.2" textLength="22.5" lengthAdjust="spacingAndGlyphs">16</text><text x="22.5" y="0" font-size="24.8" textLength="32.4" lengthAdjust="spacingAndGlyphs">cm</text></g>
<g transform="translate(282.5,730.5) rotate(90)">
<text x="0" y="0" font-size="23.2" font-weight="bold" stroke="#161616" stroke-width="0.2" textLength="21.8" lengthAdjust="spacingAndGlyphs">18</text><text x="21.8" y="0" font-size="23.2" textLength="31.2" lengthAdjust="spacingAndGlyphs">cm</text></g>
<g transform="translate(401.0,737.3) rotate(4.00)"><text x="0" y="0" font-size="22" font-weight="bold" stroke="#161616" stroke-width="0.2" textLength="23.2" lengthAdjust="spacingAndGlyphs">47</text><text x="23.2" y="0" font-size="22" textLength="33.0" lengthAdjust="spacingAndGlyphs">cm</text></g>
<g transform="translate(572.8,731.0) rotate(90)">
<text x="0" y="0" font-size="21.4" font-weight="normal" stroke="#161616" stroke-width="0.6" textLength="22.0" lengthAdjust="spacingAndGlyphs">53</text><text x="22.0" y="0" font-size="21.4" textLength="31.5" lengthAdjust="spacingAndGlyphs">cm</text></g>
<g transform="translate(531.5,800.0) rotate(90)">
<text x="0" y="0" font-size="21.1" font-weight="normal" stroke="#161616" stroke-width="0.6" textLength="22.5" lengthAdjust="spacingAndGlyphs">12</text><text x="22.5" y="0" font-size="21.1" textLength="33.5" lengthAdjust="spacingAndGlyphs">cm</text></g>
<polyline points="736.5,649.5 736.5,669.2" fill="none" stroke="#707070" stroke-width="1.6" stroke-linejoin="round" stroke-linecap="round"/>
<polyline points="822.9,626.4 822.9,647.3" fill="none" stroke="#707070" stroke-width="2.2" stroke-linejoin="round" stroke-linecap="round"/>
<polyline points="1104.8,655.0 1104.8,674.2" fill="none" stroke="#707070" stroke-width="1.6" stroke-linejoin="round" stroke-linecap="round"/>
<polyline points="1104.8,674.2 1125.6,677.8" fill="none" stroke="#858585" stroke-width="1.5" stroke-linejoin="round" stroke-linecap="round"/>
<polyline points="1104.8,812.3 1125.6,816.7" fill="none" stroke="#858585" stroke-width="1.5" stroke-linejoin="round" stroke-linecap="round"/>
<polyline points="740.0,671.4 1032.0,703.9 1100.3,678.7" fill="none" stroke="#858585" stroke-width="1.5" stroke-linejoin="round" stroke-linecap="round"/>
<polyline points="741.0,692.3 823.3,702.2" fill="none" stroke="#858585" stroke-width="1.5" stroke-linejoin="round" stroke-linecap="round"/>
<polyline points="741.8,671.0 741.8,806.0" fill="none" stroke="#858585" stroke-width="1.5" stroke-linejoin="round" stroke-linecap="round"/>
<polyline points="1032.0,704.0 1032.0,855.0" fill="none" stroke="#858585" stroke-width="1.5" stroke-linejoin="round" stroke-linecap="round"/>
<polyline points="1035.0,705.6 1035.0,855.0" fill="none" stroke="#858585" stroke-width="1.5" stroke-linejoin="round" stroke-linecap="round"/>
<polyline points="741.8,751.8 826.4,725.2" fill="none" stroke="#858585" stroke-width="1.5" stroke-linejoin="round" stroke-linecap="round"/>
<polyline points="741.8,751.8 1030.8,796.0" fill="none" stroke="#858585" stroke-width="1.5" stroke-linejoin="round" stroke-linecap="round"/>
<polyline points="741.8,756.0 826.4,768.0 1030.8,800.0" fill="none" stroke="#858585" stroke-width="1.5" stroke-linejoin="round" stroke-linecap="round"/>
<polyline points="736.5,669.2 822.9,647.3 1104.8,674.2" fill="none" stroke="#6f6f6f" stroke-width="3.5" stroke-linejoin="round" stroke-linecap="round"/>
<polyline points="737.6,669.0 737.6,806.4" fill="none" stroke="#6f6f6f" stroke-width="3.5" stroke-linejoin="round" stroke-linecap="round"/>
<polyline points="737.4,806.4 826.4,772.8" fill="none" stroke="#6f6f6f" stroke-width="3.5" stroke-linejoin="round" stroke-linecap="round"/>
<polyline points="1104.8,674.0 1104.8,812.3" fill="none" stroke="#6f6f6f" stroke-width="3.5" stroke-linejoin="round" stroke-linecap="round"/>
<polyline points="1032.0,855.3 1104.8,812.3" fill="none" stroke="#6f6f6f" stroke-width="3.5" stroke-linejoin="round" stroke-linecap="round"/>
<polyline points="1030.8,802.0 1030.8,855.3" fill="none" stroke="#6f6f6f" stroke-width="3.5" stroke-linejoin="round" stroke-linecap="round"/>
<polygon points="826.4,702.8 1030.6,727.7 1030.6,751.4 826.4,725.2" fill="none" stroke="#6f6f6f" stroke-width="3.5" stroke-linejoin="round" stroke-linecap="round"/>
<polyline points="826.4,772.0 1030.8,801.9" fill="none" stroke="#6f6f6f" stroke-width="3.5" stroke-linejoin="round" stroke-linecap="round"/>
<polyline points="736.5,649.5 822.9,626.4 1104.8,654.9" fill="none" stroke="#c91b27" stroke-width="2.6" stroke-linejoin="round" stroke-linecap="round"/>
<polyline points="1125.6,678.0 1125.6,816.7" fill="none" stroke="#c91b27" stroke-width="2.6" stroke-linejoin="round" stroke-linecap="round"/>
<polyline points="740.9,681.3 1029.0,714.3" fill="none" stroke="#c91b27" stroke-width="2.6" stroke-linejoin="round" stroke-linecap="round"/>
<polyline points="785.3,675.8 785.3,696.7" fill="none" stroke="#c91b27" stroke-width="2.6" stroke-linejoin="round" stroke-linecap="round"/>
<g transform="translate(757.5,639.0) rotate(-15.00)"><text x="0" y="0" font-size="22" font-weight="bold" stroke="#161616" stroke-width="0.2" textLength="21.5" lengthAdjust="spacingAndGlyphs">57</text><text x="21.5" y="0" font-size="22" textLength="34.5" lengthAdjust="spacingAndGlyphs">cm</text></g>
<g transform="translate(926.0,633.0) rotate(5.50)"><text x="0" y="0" font-size="22" font-weight="bold" stroke="#161616" stroke-width="0.2" textLength="31.0" lengthAdjust="spacingAndGlyphs">120</text><text x="31.0" y="0" font-size="22" textLength="32.0" lengthAdjust="spacingAndGlyphs">cm</text></g>
<g transform="translate(870.5,692.5) rotate(5.00)"><text x="0" y="0" font-size="22" font-weight="bold" stroke="#161616" stroke-width="0.2" textLength="32.0" lengthAdjust="spacingAndGlyphs">117</text><text x="32.0" y="0" font-size="22" textLength="32.0" lengthAdjust="spacingAndGlyphs">cm</text></g>
<g transform="translate(789.6,676.5) rotate(90)">
<text x="0" y="0" font-size="22.3" font-weight="bold" stroke="#161616" stroke-width="0.2" textLength="10.5" lengthAdjust="spacingAndGlyphs">8</text><text x="10.5" y="0" font-size="22.3" textLength="32.5" lengthAdjust="spacingAndGlyphs">cm</text></g>
<g transform="translate(1128.8,727.0) rotate(90)">
<text x="0" y="0" font-size="22.1" font-weight="normal" stroke="#161616" stroke-width="0.6" textLength="20.0" lengthAdjust="spacingAndGlyphs">51</text><text x="20.0" y="0" font-size="22.1" textLength="34.0" lengthAdjust="spacingAndGlyphs">cm</text></g>
</svg></body></html>
